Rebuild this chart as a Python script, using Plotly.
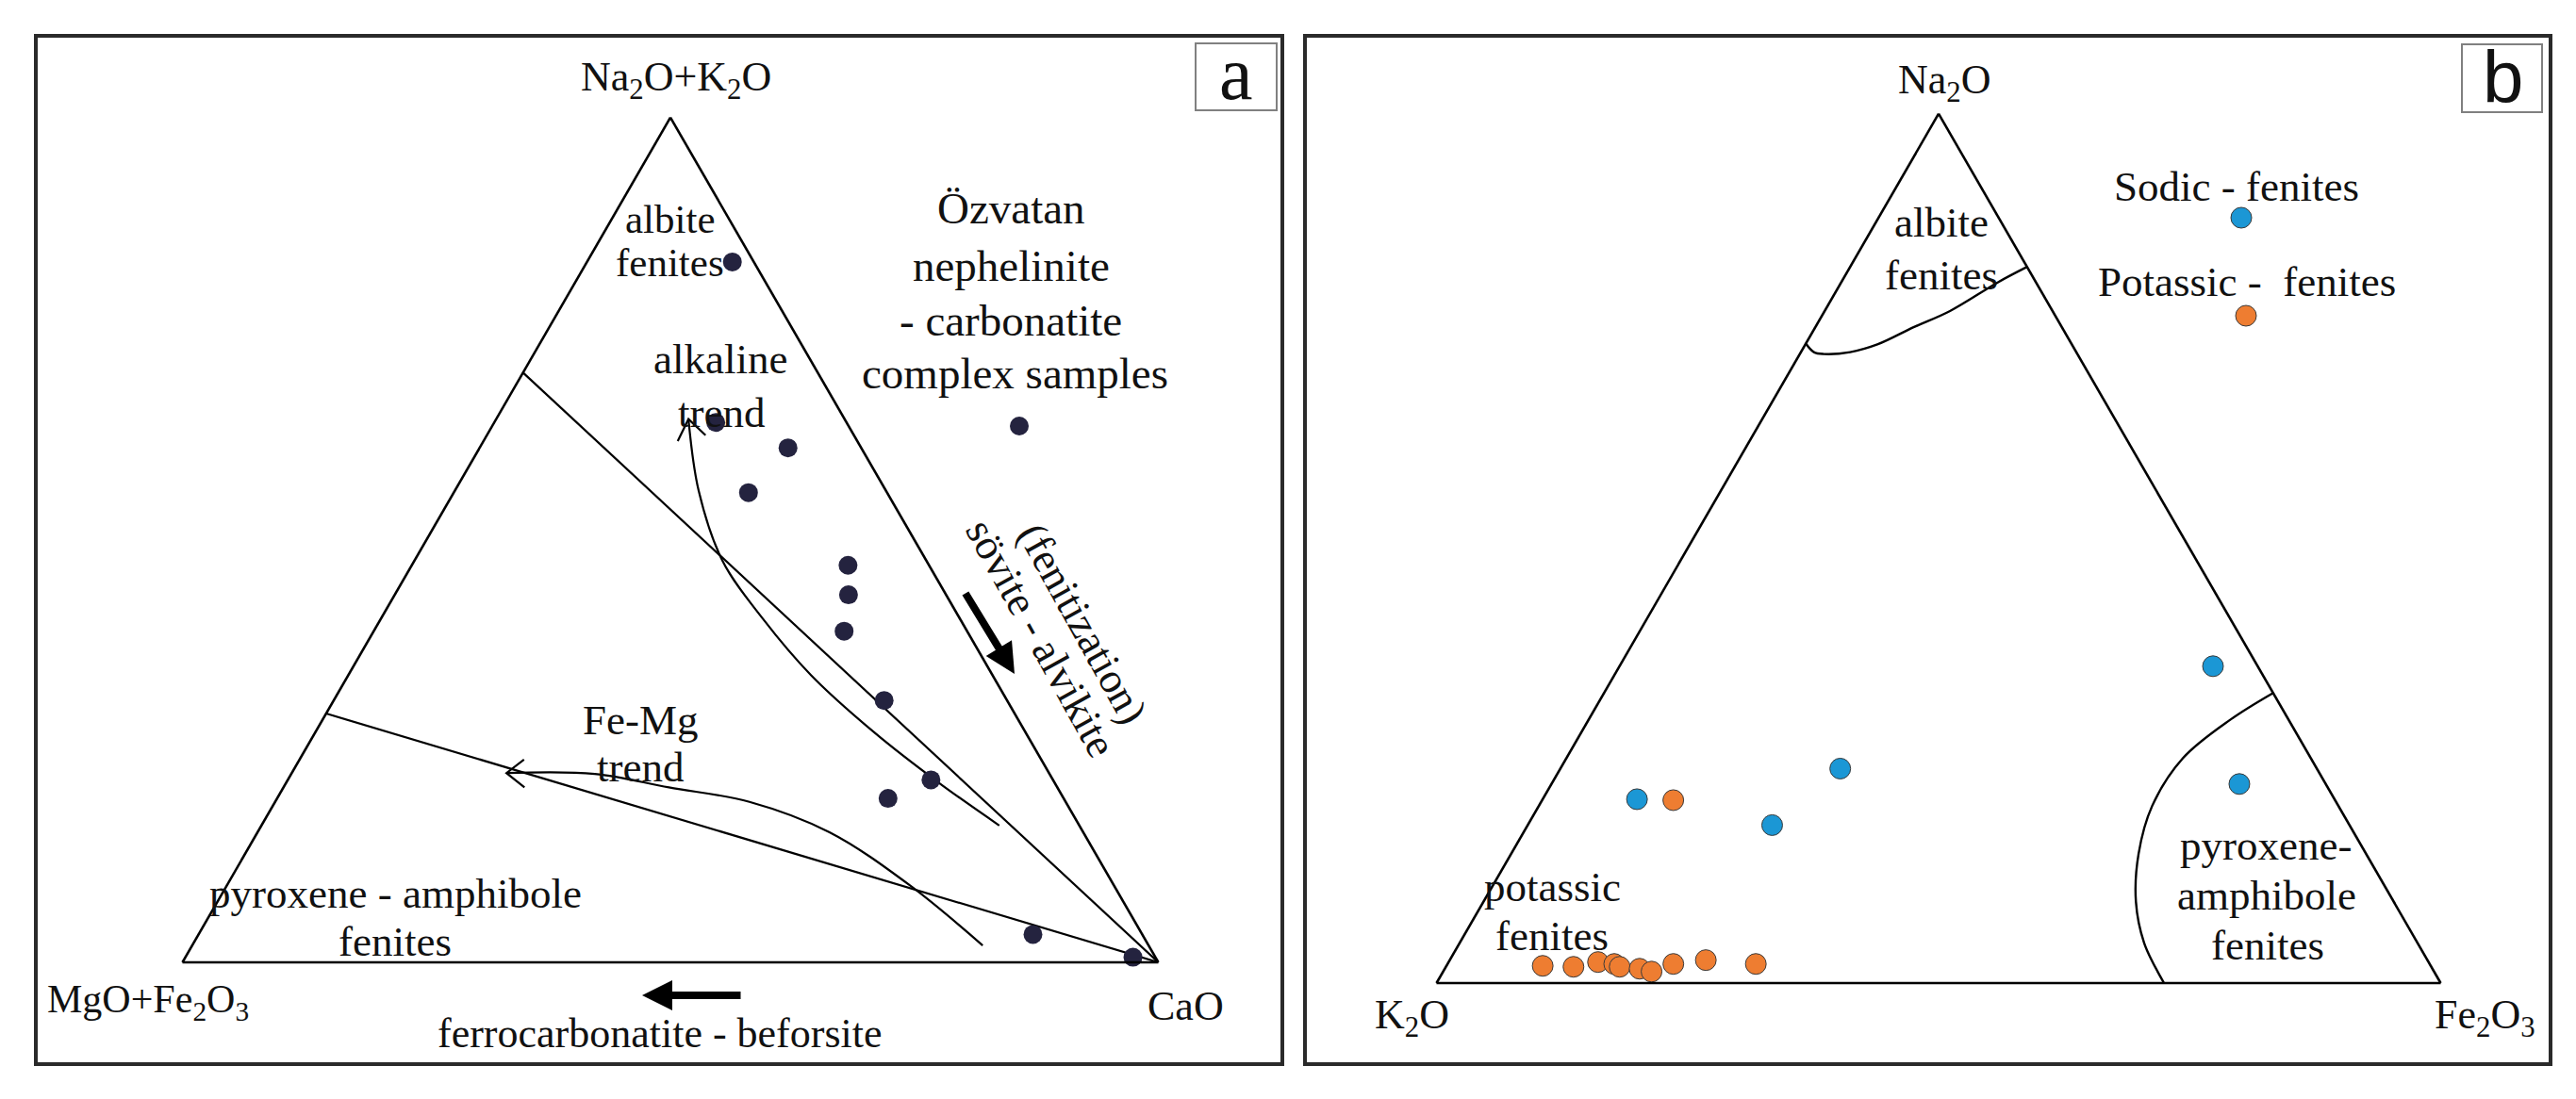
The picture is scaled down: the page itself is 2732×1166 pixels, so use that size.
import plotly.graph_objects as go

W_PX, H_PX = 2732, 1166

# ---------------- Panel a data (Na2O+K2O, MgO+Fe2O3, CaO) in % ----------------
a_na2o_k2o = [82.9, 63.9, 60.9, 55.6, 47.0, 43.5, 39.2, 31.0, 21.6, 19.4, 3.3, 0.6]
a_mgo_fe2o3 = [2.2, 13.4, 7.5, 14.2, 8.3, 10.0, 12.6, 12.6, 12.5, 18.0, 11.2, 2.3]
a_cao = [14.9, 22.7, 31.6, 30.2, 44.7, 46.5, 48.2, 56.4, 65.9, 62.6, 85.5, 97.1]

# field boundaries (straight lines from the left side to the CaO corner)
bound1_a, bound1_b, bound1_c = [69.8, 0.0], [30.2, 0.0], [0.0, 100.0]
bound2_a, bound2_b, bound2_c = [29.45, 0.0], [70.55, 0.0], [0.0, 100.0]

# alkaline trend curve (arrow at the top end)
alk_a = [64.3, 55.8, 47.5, 40.7, 34.0, 27.2, 21.3, 16.2]
alk_b = [16.0, 19.2, 20.9, 20.2, 18.6, 15.5, 11.9, 8.2]
alk_c = [19.7, 25.0, 31.6, 39.1, 47.4, 57.3, 66.8, 75.6]
alk_head_a = [61.7, 64.3, 62.4]
alk_head_b = [18.4, 16.0, 15.2]
alk_head_c = [19.9, 19.7, 22.4]

# Fe-Mg trend curve (arrow at the left end)
femg_a = [22.4, 22.3, 20.7, 19.0, 15.4, 9.1, 2.0]
femg_b = [55.6, 46.6, 39.8, 32.4, 26.0, 20.9, 17.0]
femg_c = [22.0, 31.1, 39.5, 48.6, 58.6, 70.0, 81.0]
femg_head_a = [24.0, 22.4, 20.7]
femg_head_b = [53.0, 55.6, 54.6]
femg_head_c = [23.0, 22.0, 24.7]

# ---------------- Panel b data (Na2O, K2O, Fe2O3) in % ----------------
sodic_na2o = [36.45, 22.9, 24.67, 21.15, 18.17]
sodic_k2o = [4.45, 8.6, 47.46, 69.46, 57.49]
sodic_fe2o3 = [59.1, 68.5, 27.87, 9.39, 24.34]

potassic_na2o = [21.04, 1.98, 1.87, 2.42, 2.2, 1.87, 1.65, 1.32, 2.2, 2.64, 2.2]
potassic_k2o = [65.9, 88.4, 85.4, 82.7, 81.2, 80.8, 78.95, 77.9, 75.3, 71.86, 67.1]
potassic_fe2o3 = [13.06, 9.58, 12.7, 14.87, 16.6, 17.3, 19.4, 20.75, 22.48, 25.5, 30.7]

# albite-fenite field boundary
albite_a = [73.57, 72.58, 72.36, 72.58, 73.46, 75.44, 77.31, 80.62, 82.38]
albite_b = [26.43, 26.13, 25.25, 22.52, 19.37, 14.77, 10.21, 3.77, 0.0]
albite_c = [0.0, 1.29, 2.39, 4.90, 7.17, 9.79, 12.48, 15.61, 17.62]

# pyroxene-amphibole fenite field boundary
pyx_a = [33.37, 30.29, 25.88, 20.37, 14.87, 9.36, 4.63, 0.0]
pyx_b = [0.0, 5.81, 12.72, 18.55, 22.65, 25.67, 27.22, 27.55]
pyx_c = [66.63, 63.90, 61.40, 61.08, 62.48, 64.97, 68.15, 72.45]

DOT_A = "#24233f"
BLUE = "#1b97d5"
ORANGE = "#ee7d31"
SERIF = "Liberation Serif"


def px(x):
    return x / W_PX


def py(y):
    return 1 - y / H_PX


fig = go.Figure()

# ---- panel a traces ----
for aa, bb, cc, shp in [
    (bound1_a, bound1_b, bound1_c, "linear"),
    (bound2_a, bound2_b, bound2_c, "linear"),
    (alk_a, alk_b, alk_c, "spline"),
    (alk_head_a, alk_head_b, alk_head_c, "linear"),
    (femg_a, femg_b, femg_c, "spline"),
    (femg_head_a, femg_head_b, femg_head_c, "linear"),
]:
    fig.add_trace(go.Scatterternary(a=aa, b=bb, c=cc, mode="lines",
                                    line=dict(color="black", width=2.2, shape=shp),
                                    subplot="ternary", hoverinfo="skip", cliponaxis=False))

fig.add_trace(go.Scatterternary(a=a_na2o_k2o, b=a_mgo_fe2o3, c=a_cao, mode="markers",
                                marker=dict(color=DOT_A, size=20, line=dict(width=0)),
                                subplot="ternary", cliponaxis=False,
                                name="Özvatan samples"))

# ---- panel b traces ----
for aa, bb, cc in [(albite_a, albite_b, albite_c), (pyx_a, pyx_b, pyx_c)]:
    fig.add_trace(go.Scatterternary(a=aa, b=bb, c=cc, mode="lines",
                                    line=dict(color="black", width=2.4, shape="spline"),
                                    subplot="ternary2", hoverinfo="skip", cliponaxis=False))

fig.add_trace(go.Scatterternary(a=potassic_na2o, b=potassic_k2o, c=potassic_fe2o3, mode="markers",
                                marker=dict(color=ORANGE, size=22, line=dict(color="#3a3a3a", width=1)),
                                subplot="ternary2", cliponaxis=False, name="Potassic - fenites"))
fig.add_trace(go.Scatterternary(a=sodic_na2o, b=sodic_k2o, c=sodic_fe2o3, mode="markers",
                                marker=dict(color=BLUE, size=22, line=dict(color="#3a3a3a", width=1)),
                                subplot="ternary2", cliponaxis=False, name="Sodic - fenites"))


def tern_axis():
    return dict(showticklabels=False, ticks="", showgrid=False, showline=True,
                linecolor="black", linewidth=2.6, title=dict(text=""), min=0)


# triangle placement (equilateral, centred in domain)
ta_w, ta_cx, ta_base = 1035, 703, 1013
ta_h = ta_w * 3 ** 0.5 / 2
tb_w, tb_cx, tb_base = 1065, 2048, 1035
tb_h = tb_w * 3 ** 0.5 / 2

fig.update_layout(
    width=W_PX, height=H_PX, margin=dict(l=0, r=0, t=0, b=0),
    paper_bgcolor="white", plot_bgcolor="rgba(0,0,0,0)", showlegend=False,
    font=dict(family=SERIF, color="#111"),
    ternary=dict(
        sum=100, bgcolor="rgba(0,0,0,0)",
        domain=dict(x=[px(ta_cx - ta_w / 2), px(ta_cx + ta_w / 2)],
                    y=[py(ta_base), py(ta_base - ta_h)]),
        aaxis=tern_axis(), baxis=tern_axis(), caxis=tern_axis()),
    ternary2=dict(
        sum=100, bgcolor="rgba(0,0,0,0)",
        domain=dict(x=[px(tb_cx - tb_w / 2), px(tb_cx + tb_w / 2)],
                    y=[py(tb_base), py(tb_base - tb_h)]),
        aaxis=tern_axis(), baxis=tern_axis(), caxis=tern_axis()),
)

# ---- frames, panel-letter boxes and legend keys ----
shapes = []
for x0, x1 in [(30, 1352), (1376, 2697)]:
    shapes.append(dict(type="rect", xref="paper", yref="paper", x0=px(x0), x1=px(x1),
                       y0=py(1121), y1=py(30), line=dict(color="#2a2a2a", width=4)))
for x0, x1, y0, y1 in [(1260, 1346, 38, 109), (2603, 2688, 39, 111)]:
    shapes.append(dict(type="rect", xref="paper", yref="paper", x0=px(x0), x1=px(x1),
                       y0=py(y1), y1=py(y0), line=dict(color="#808080", width=2)))

# legend keys (positions in page pixels, next to their legend texts)
key_x = [1073, 2369, 2374]
key_y = [444, 223, 327]
key_col = [DOT_A, BLUE, ORANGE]
key_r = [10, 11, 11]
key_line = [0, 1, 1]
for kx, ky, kc, kr, kl in zip(key_x, key_y, key_col, key_r, key_line):
    shapes.append(dict(type="circle", xref="paper", yref="paper", layer="above",
                       x0=px(kx - kr), x1=px(kx + kr), y0=py(ky + kr), y1=py(ky - kr),
                       fillcolor=kc, line=dict(color="#3a3a3a", width=kl)))
fig.update_layout(shapes=shapes)

annotations = []


def ann(text, x, y, size=45, family=SERIF, angle=0):
    annotations.append(dict(text=text, x=px(x), y=py(y), xref="paper", yref="paper",
                            showarrow=False, xanchor="center", yanchor="middle",
                            textangle=angle, font=dict(family=family, size=size, color="#111")))


# panel a text
ann("a", 1303, 70, size=80)
ann("Na<sub>2</sub>O+K<sub>2</sub>O", 709, 76, size=44)
ann("MgO+Fe<sub>2</sub>O<sub>3</sub>", 149, 1055, size=42)
ann("CaO", 1249, 1059, size=44)
ann("ferrocarbonatite - beforsite", 692, 1088, size=44)
ann("albite", 703, 225, size=43)
ann("fenites", 703, 270, size=43)
ann("Özvatan", 1064, 213, size=47)
ann("nephelinite", 1064, 274, size=47)
ann("- carbonatite", 1064, 332, size=47)
ann("complex samples", 1068, 388, size=47)
ann("alkaline", 756, 373, size=45)
ann("trend", 757, 430, size=45)
ann("Fe-Mg", 671, 756, size=45)
ann("trend", 671, 806, size=45)
ann("pyroxene - amphibole", 411, 940, size=45)
ann("fenites", 411, 991, size=45)
ann("(fenitization)", 1140, 653, size=45, angle=61)
ann("sövite - alvikite", 1096, 669, size=45, angle=61)

# panel b text
ann("b", 2646, 74, size=78, family="Liberation Sans")
ann("Na<sub>2</sub>O", 2054, 80, size=44)
ann("K<sub>2</sub>O", 1489, 1071, size=44)
ann("Fe<sub>2</sub>O<sub>3</sub>", 2627, 1071, size=44)
ann("Sodic - fenites", 2364, 190, size=45)
ann("Potassic -  fenites", 2375, 291, size=45)
ann("albite", 2051, 228, size=45)
ann("fenites", 2051, 284, size=45)
ann("potassic", 1638, 933, size=45)
ann("fenites", 1638, 985, size=45)
ann("pyroxene-", 2395, 889, size=45)
ann("amphibole", 2396, 942, size=45)
ann("fenites", 2397, 995, size=45)

# thick direction arrows
annotations.append(dict(text="", x=px(1068), y=py(707), xref="paper", yref="paper",
                        ax=-53, ay=-87, showarrow=True, arrowhead=2, arrowsize=0.8,
                        arrowwidth=8, arrowcolor="black"))
annotations.append(dict(text="", x=px(673), y=py(1048), xref="paper", yref="paper",
                        ax=106, ay=0, showarrow=True, arrowhead=2, arrowsize=0.8,
                        arrowwidth=8, arrowcolor="black"))
fig.update_layout(annotations=annotations)

fig.write_html("out.html", config=dict(displayModeBar=False))
